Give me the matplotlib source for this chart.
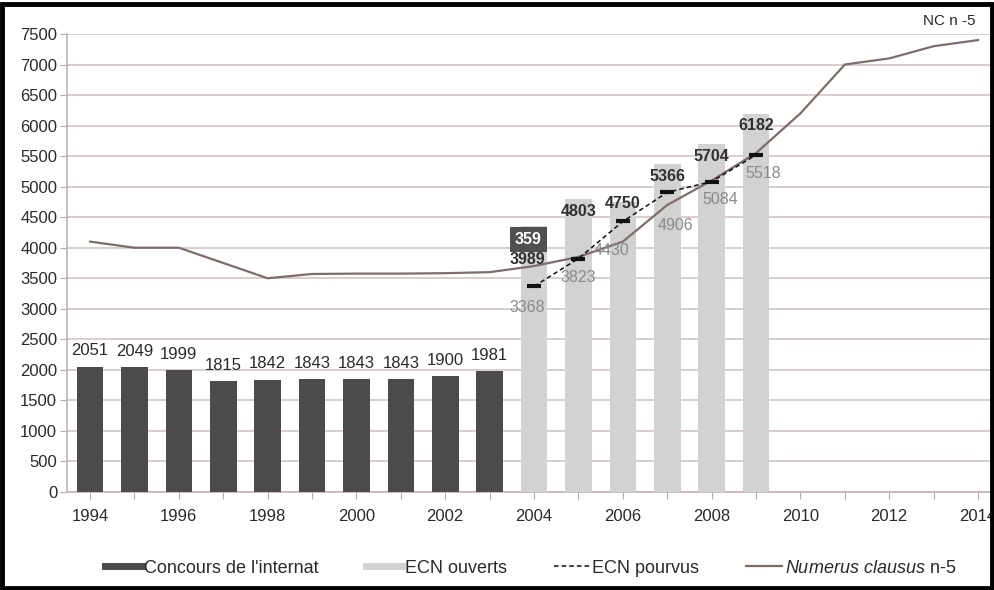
import matplotlib
matplotlib.use("Agg")
import matplotlib.pyplot as plt
from matplotlib.patches import Rectangle
from matplotlib.lines import Line2D

# Data
internat_years = [1994, 1995, 1996, 1997, 1998, 1999, 2000, 2001, 2002, 2003]
internat_values = [2051, 2049, 1999, 1815, 1842, 1843, 1843, 1843, 1900, 1981]

ecn_years = [2004, 2005, 2006, 2007, 2008, 2009]
ecn_ouverts = [4359, 4803, 4750, 5366, 5704, 6182]
ecn_pourvus = [3368, 3823, 4430, 4906, 5084, 5518]

nc_years = list(range(1994, 2015))
nc_values = [4100, 4000, 4000, 3750, 3500, 3570, 3576, 3576, 3583, 3600,
             3700, 3850, 4100, 4700, 5100, 5550, 6200, 7000, 7100, 7300, 7400]

y_ticks = list(range(0, 7501, 500))
x_tick_years = list(range(1994, 2015, 2))

FONT = ["Liberation Sans", "DejaVu Sans"]
plt.rcParams["font.family"] = FONT
plt.rcParams["mathtext.fontset"] = "custom"
plt.rcParams["mathtext.rm"] = "Liberation Sans"
plt.rcParams["mathtext.it"] = "Liberation Sans:italic"

DARK = "#4d4a4b"
LIGHT = "#d2d2d2"
NC_COL = "#7d6e6c"
GRID = "#d6caca"
TXT = "#2a2a2a"

fig = plt.figure(figsize=(9.95, 5.9), dpi=100)
ax = fig.add_axes([0.0673, 0.1661, 0.9277, 0.7763])

bw = 0.6
ax.bar(internat_years, internat_values, width=bw, color=DARK, zorder=3)
ax.bar(ecn_years, ecn_ouverts, width=bw, color=LIGHT, zorder=3)
ax.plot(nc_years, nc_values, color=NC_COL, lw=1.6, zorder=4)
ax.plot(ecn_years, ecn_pourvus, color="#111111", lw=1.1, ls=(0, (3, 2)),
        marker="_", ms=10, mew=3, zorder=5)

# value labels above the internat bars
for x, v in zip(internat_years, internat_values):
    ax.annotate(str(v), (x, v), xytext=(0, 6), textcoords="offset points",
                ha="center", va="bottom", fontsize=12, color=TXT, zorder=6)

# ECN ouverts labels, just below the top of each bar
ouv_offsets = [None, -9, -1, -9, -9, -8]
for x, v, off in zip(ecn_years, ecn_ouverts, ouv_offsets):
    if off is None:
        continue
    ax.annotate(str(v), (x, v), xytext=(0, off), textcoords="offset points",
                ha="center", va="center", fontsize=11.5, color="#303030",
                fontweight="bold", zorder=6)

# 2004 labels
ax.annotate("359", (2004, ecn_ouverts[0]), xytext=(-4, -10), textcoords="offset points",
            ha="center", va="center", fontsize=11.5, color="white", fontweight="bold",
            zorder=7, bbox=dict(boxstyle="square,pad=0.3", fc="#505050", ec="none"))
ax.annotate("3989", (2004, ecn_ouverts[0]), xytext=(-5, -24), textcoords="offset points",
            ha="center", va="center", fontsize=11.5, color="#303030",
            fontweight="bold", zorder=7)

# ECN pourvus labels, below each marker
pv_offsets = [(-5, -15), (0, -14), (-8, -21), (6, -24), (6, -13), (5, -13)]
for x, v, (dx, dy) in zip(ecn_years, ecn_pourvus, pv_offsets):
    ax.annotate(str(v), (x, v), xytext=(dx, dy), textcoords="offset points",
                ha="center", va="center", fontsize=11.5, color="#8a8a8a", zorder=6)

ax.annotate("NC n -5", (2014, nc_values[-1]), xytext=(-21, 14), textcoords="offset points",
            ha="center", va="center", fontsize=11, color=TXT, zorder=6)

ax.set_xlim(1993.48, 2014.27)
ax.set_ylim(0, 7500)
ax.set_yticks(y_ticks)
ax.set_yticklabels([str(t) for t in y_ticks], fontsize=12, color=TXT)
ax.set_xticks(nc_years)
ax.set_xticklabels([str(y) if y in x_tick_years else "" for y in nc_years],
                   fontsize=12, color=TXT)
ax.tick_params(axis="x", length=5, color="#b8aaaa", pad=7)
ax.tick_params(axis="y", length=5, color="#b8aaaa", pad=2)

ax.grid(axis="y", color=GRID, lw=1.3, zorder=0)
ax.set_axisbelow(True)
for s in ["top", "right"]:
    ax.spines[s].set_visible(False)
for s in ["left", "bottom"]:
    ax.spines[s].set_color("#c0b4b4")
    ax.spines[s].set_linewidth(1.2)

handles = [
    Line2D([], [], color=DARK, lw=5),
    Line2D([], [], color=LIGHT, lw=5),
    Line2D([], [], color="#111111", lw=1.1, ls=(0, (3, 2))),
    Line2D([], [], color=NC_COL, lw=1.6),
]
labels = ["Concours de l'internat", "ECN ouverts", "ECN pourvus",
          r"$\mathit{Numerus\ clausus}$ n-5"]
leg = fig.legend(handles, labels, loc="center left", bbox_to_anchor=(0.106, 0.037),
                 ncol=4, frameon=False, fontsize=13, handlelength=2.0,
                 handletextpad=0.15, columnspacing=2.6, borderaxespad=0, borderpad=0)
for t in leg.get_texts():
    t.set_color(TXT)

# black frame around the figure
fig.patches.append(Rectangle((0.002, 0.004), 0.995, 0.99, transform=fig.transFigure,
                             fill=False, ec="black", lw=3.5, zorder=10))

fig.savefig("out.png", dpi=100)
